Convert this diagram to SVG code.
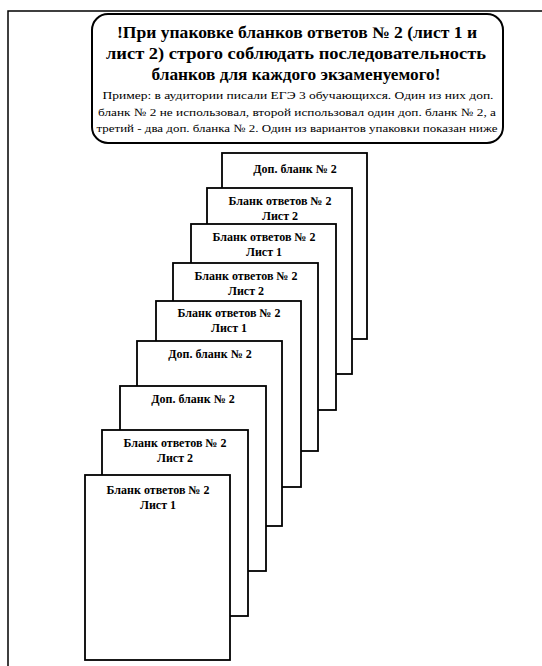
<svg xmlns="http://www.w3.org/2000/svg" width="542" height="666" viewBox="0 0 542 666">
<style>
.frame{fill:none;stroke:#000;stroke-width:1.5}
.note{fill:#fff;stroke:#000;stroke-width:2}
.page{fill:#fff;stroke:#000;stroke-width:1.8}
.t{font-family:'Liberation Serif','DejaVu Serif',serif;fill:#000;text-anchor:middle}
.title{font-size:16px;font-weight:bold}
.small{font-size:11px}
.pt{font-size:12px;font-weight:bold}
</style>
<rect width="542" height="666" fill="#fff"/>
<g id="frame">
<path class="frame" d="M8,666 V11 H542"/>
</g>
<g id="note">
<rect class="note" x="92" y="14" width="411" height="129" rx="16" ry="16"/>
<text class="t title" x="297" y="38" textLength="360" lengthAdjust="spacingAndGlyphs">!При упаковке бланков ответов № 2 (лист 1 и</text>
<text class="t title" x="296" y="59" textLength="380" lengthAdjust="spacingAndGlyphs">лист 2) строго соблюдать последовательность</text>
<text class="t title" x="296" y="80" textLength="289" lengthAdjust="spacingAndGlyphs">бланков для каждого экзаменуемого!</text>
<text class="t small" x="298" y="99" textLength="391" lengthAdjust="spacingAndGlyphs">Пример: в аудитории писали ЕГЭ 3 обучающихся. Один из них доп.</text>
<text class="t small" x="297" y="116" textLength="398" lengthAdjust="spacingAndGlyphs">бланк № 2 не использовал, второй использовал один доп. бланк № 2, а</text>
<text class="t small" x="297" y="132" textLength="401" lengthAdjust="spacingAndGlyphs">третий - два доп. бланка № 2. Один из вариантов упаковки показан ниже</text>
</g>
<g id="page1">
<rect class="page" x="222" y="153" width="145" height="186"/>
<text class="t pt" x="295" y="173">Доп. бланк № 2</text>
</g>
<g id="page2">
<rect class="page" x="207" y="188" width="145" height="186"/>
<text class="t pt" x="280" y="205">Бланк ответов № 2</text>
<text class="t pt" x="280" y="220">Лист 2</text>
</g>
<g id="page3">
<rect class="page" x="191" y="224" width="145" height="186"/>
<text class="t pt" x="264" y="241">Бланк ответов № 2</text>
<text class="t pt" x="264" y="256">Лист 1</text>
</g>
<g id="page4">
<rect class="page" x="173" y="263" width="145" height="188"/>
<text class="t pt" x="246" y="280">Бланк ответов № 2</text>
<text class="t pt" x="246" y="295">Лист 2</text>
</g>
<g id="page5">
<rect class="page" x="156" y="301" width="145" height="186"/>
<text class="t pt" x="229" y="317">Бланк ответов № 2</text>
<text class="t pt" x="229" y="332">Лист 1</text>
</g>
<g id="page6">
<rect class="page" x="137" y="341" width="145" height="185"/>
<text class="t pt" x="210" y="358">Доп. бланк № 2</text>
</g>
<g id="page7">
<rect class="page" x="120" y="386" width="146" height="185"/>
<text class="t pt" x="193" y="403">Доп. бланк № 2</text>
</g>
<g id="page8">
<rect class="page" x="102" y="430" width="146" height="186"/>
<text class="t pt" x="175" y="447">Бланк ответов № 2</text>
<text class="t pt" x="175" y="462">Лист 2</text>
</g>
<g id="page9">
<rect class="page" x="85" y="475" width="145" height="185"/>
<text class="t pt" x="158" y="494">Бланк ответов № 2</text>
<text class="t pt" x="158" y="509">Лист 1</text>
</g>
<g id="connectors"></g>
</svg>
